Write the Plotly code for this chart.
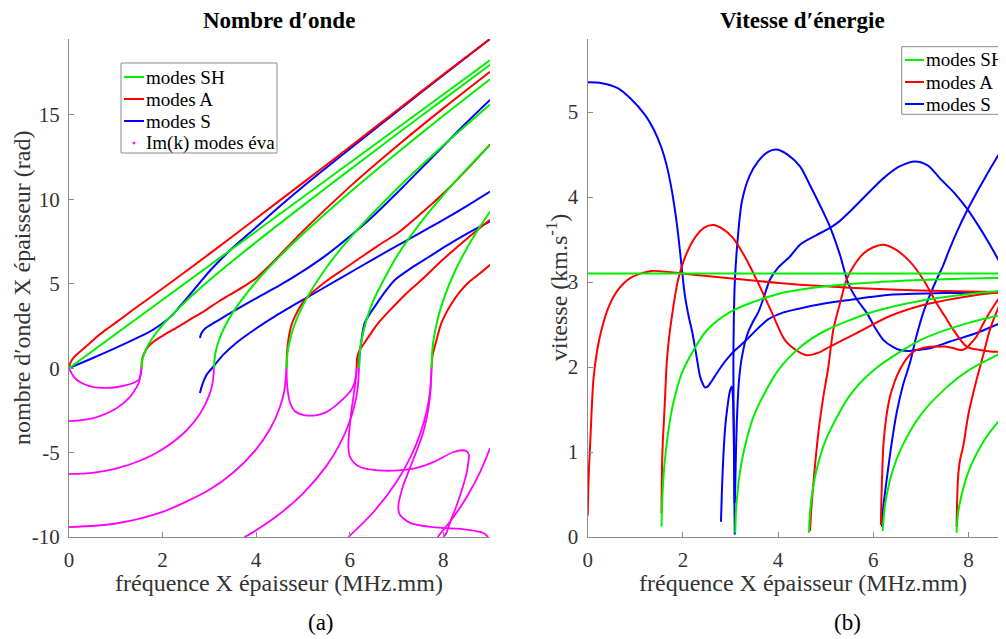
import plotly.graph_objects as go

# ================= (a) Nombre d'onde : k*d vs f*d =================
# SH modes (real k)
sh0_f = [0, 4.5, 9]
sh0_k = [0, 9.12, 18.24]
sh1_f = [1.55, 1.56, 1.6, 1.7, 1.8, 2.0, 2.5, 3.0, 4.0, 5.0, 6.0, 7.0, 8.0, 9.0]
sh1_k = [0, 0.36, 0.81, 1.41, 1.85, 2.56, 3.97, 5.21, 7.47, 9.63, 11.75, 13.84, 15.91, 17.97]
sh2_f = [3.1, 3.12, 3.15, 3.2, 3.3, 3.5, 4.0, 4.5, 5.0, 6.0, 7.0, 8.0, 9.0]
sh2_k = [0, 0.71, 1.13, 1.61, 2.29, 3.29, 5.12, 6.61, 7.95, 10.41, 12.72, 14.95, 17.12]
sh3_f = [4.65, 4.67, 4.7, 4.8, 5.0, 5.5, 6.0, 7.0, 8.0, 9.0]
sh3_k = [0, 0.88, 1.39, 2.41, 3.72, 5.95, 7.69, 10.6, 13.19, 15.62]
sh4_f = [6.2, 6.22, 6.25, 6.35, 6.5, 7.0, 7.5, 8.0, 8.5, 9.0]
sh4_k = [0, 1.02, 1.6, 2.78, 3.96, 6.59, 8.56, 10.25, 11.79, 13.22]
sh5_f = [7.75, 7.77, 7.8, 7.9, 8.0, 8.25, 8.5, 8.75, 9.0]
sh5_k = [0, 1.14, 1.79, 3.11, 4.02, 5.74, 7.08, 8.23, 9.27]

# antisymmetric Lamb modes
a0_f = [0, 0.02, 0.05, 0.1, 0.16, 0.24, 0.35, 0.5, 0.64, 0.8, 1.0, 1.34, 2.0, 3.0, 4.0, 5.0, 6.0, 7.0, 8.0, 9.0]
a0_k = [0, 0.25, 0.42, 0.62, 0.8, 0.99, 1.25, 1.62, 1.96, 2.3, 2.7, 3.4, 4.72, 6.77, 8.87, 10.98, 13.1, 15.25, 17.4, 19.5]
a1_f = [1.55, 1.555, 1.57, 1.6, 1.65, 1.72, 1.8, 1.9, 2.05, 2.3, 2.6, 2.9, 3.2, 3.5, 3.8, 4.01, 4.2, 4.4, 5.0, 6.0, 7.0, 8.0, 9.0]
a1_k = [0, 0.35, 0.6, 0.85, 1.1, 1.35, 1.55, 1.75, 2.0, 2.4, 2.9, 3.4, 3.95, 4.45, 4.95, 5.35, 5.85, 6.4, 8.12, 10.74, 13.13, 15.39, 17.56]
a2_f = [4.65, 4.66, 4.69, 4.75, 4.83, 4.93, 5.04, 5.25, 5.54, 5.9, 6.21, 6.6, 7.05, 7.5, 8.0, 8.5, 9.0]
a2_k = [0, 0.9, 1.69, 2.5, 3.07, 3.6, 4.05, 4.6, 5.24, 5.92, 6.51, 7.25, 8.05, 9.1, 10.35, 11.75, 13.25]
a3_f = [6.15, 6.16, 6.2, 6.29, 6.45, 6.61, 6.9, 7.2, 7.54, 8.0, 8.5, 9.0]
a3_k = [0, 0.6, 1.0, 1.39, 2.05, 2.67, 3.55, 4.4, 5.24, 6.45, 7.65, 8.79]
a4_f = [7.75, 7.77, 7.85, 7.96, 8.15, 8.35, 8.55, 8.8, 9.0]
a4_k = [0, 0.7, 1.6, 2.67, 3.7, 4.5, 5.1, 5.65, 6.12]

# symmetric Lamb modes
s0_f = [0, 0.5, 1.0, 1.5, 1.8, 2.0, 2.2, 2.35, 2.5, 2.7, 2.85, 3.0, 3.25, 3.5, 4.0, 4.5, 5.0, 6.0, 7.0, 8.0, 9.0]
s0_k = [0, 0.59, 1.2, 1.85, 2.29, 2.66, 3.12, 3.6, 4.08, 4.74, 5.24, 5.73, 6.45, 7.13, 8.35, 9.58, 10.75, 12.98, 15.18, 17.36, 19.5]
s1u_f = [2.8, 2.82, 2.86, 2.92, 3.0, 3.2, 3.5, 3.94, 4.5, 5.0, 5.5, 6.0, 6.5, 7.0, 7.5, 8.0, 8.5, 9.0]
s1u_k = [1.79, 2.0, 2.2, 2.37, 2.52, 2.85, 3.35, 4.05, 4.9, 5.75, 6.7, 7.8, 9.0, 10.35, 11.75, 13.15, 14.55, 15.89]
s1l_f = [2.8, 2.83, 2.88, 2.95, 3.08, 3.3, 3.6, 4.0, 4.4, 5.0, 5.75, 6.5, 7.25, 8.0, 8.5, 9.0]
s1l_k = [-1.47, -1.15, -0.75, -0.35, 0.07, 0.8, 1.55, 2.35, 3.07, 4.05, 5.24, 6.45, 7.62, 8.78, 9.6, 10.46]
s3_f = [6.2, 6.21, 6.25, 6.32, 6.45, 6.54, 6.75, 6.97, 7.3, 7.7, 8.1, 8.5, 9.0]
s3_k = [0, 0.7, 1.6, 2.67, 3.3, 3.66, 4.5, 5.24, 5.9, 6.6, 7.3, 7.95, 8.69]

# evanescent modes, Im(k) (plotted negative)
ev1_f = [0, 0.5, 1.0, 1.3, 1.45, 1.5, 1.55]
ev1_k = [-3.14, -2.97, -2.4, -1.71, -1.11, -0.79, 0]
ev2_f = [0, 0.5, 1.0, 1.5, 2.0, 2.5, 2.8, 3.0, 3.07, 3.1]
ev2_k = [-6.28, -6.2, -5.95, -5.5, -4.8, -3.72, -2.7, -1.58, -0.87, 0]
ev3_f = [0, 1.0, 2.0, 3.0, 3.5, 4.0, 4.3, 4.5, 4.6, 4.65]
ev3_k = [-9.42, -9.2, -8.51, -7.2, -6.21, -4.81, -3.59, -2.37, -1.38, 0]
ev4_f = [3.75, 4.0, 4.5, 5.0, 5.5, 5.8, 6.0, 6.1, 6.17, 6.2]
ev4_k = [-10, -9.6, -8.64, -7.43, -5.8, -4.44, -3.16, -2.24, -1.22, 0]
ev5_f = [5.975, 6.5, 7.0, 7.3, 7.5, 7.65, 7.72, 7.75]
ev5_k = [-10, -8.55, -6.74, -5.27, -3.95, -2.51, -1.34, 0]
ev6_f = [7.88, 8.2, 8.5, 8.8, 9.0]
ev6_k = [-10, -8.89, -7.65, -6.09, -4.75]
ev7_f = [0, 0.1, 0.25, 0.5, 0.77, 1.0, 1.2, 1.4, 1.5, 1.54, 1.55]
ev7_k = [0, -0.5, -0.85, -1.1, -1.17, -1.13, -1.02, -0.85, -0.65, -0.3, 0]
ev8_f = [4.65, 4.655, 4.67, 4.72, 4.83, 5.0, 5.11, 5.3, 5.5, 5.68, 5.85, 6.04, 6.12, 6.15]
ev8_k = [0, -0.6, -1.2, -2.0, -2.55, -2.77, -2.81, -2.78, -2.6, -2.26, -1.85, -1.27, -0.7, 0]
ev9_f = [6.15, 6.12, 6.08, 6.04, 6.0, 5.975, 5.975, 6.0, 6.06, 6.17, 6.36, 6.72, 7.1, 7.43, 7.8, 8.21, 8.4, 8.5, 8.55, 8.54, 8.5, 8.4, 8.28, 8.15, 8.07, 8.0]
ev9_k = [0, -0.9, -1.7, -2.46, -3.5, -4.3, -4.8, -5.2, -5.5, -5.78, -5.97, -6.07, -6.04, -5.91, -5.55, -4.98, -4.86, -4.92, -5.12, -5.5, -6.2, -7.2, -8.18, -9.1, -9.75, -10]
ev10_f = [7.75, 7.71, 7.57, 7.36, 7.14, 7.04, 7.07, 7.29, 7.78, 8.5, 8.85, 8.96]
ev10_k = [0, -1.86, -3.83, -5.41, -7.0, -8.18, -8.67, -9.16, -9.42, -9.56, -9.75, -10]

# ================= (b) Vitesse d'énergie : v (km/s) vs f*d =================
vsh0_f = [0, 4.5, 9]
vsh0_v = [3.1, 3.1, 3.1]
vsh1_f = [1.5502, 1.56, 1.6, 1.7, 1.8, 2.0, 2.5, 3.0, 4.0, 5.0, 6.0, 7.0, 8.0, 9.0]
vsh1_v = [0.12, 0.35, 0.77, 1.27, 1.58, 1.96, 2.43, 2.65, 2.86, 2.95, 2.995, 3.023, 3.041, 3.054]
vsh2_f = [3.1, 3.12, 3.2, 3.3, 3.5, 4.0, 4.5, 5.0, 6.0, 7.0, 8.0, 9.0]
vsh2_v = [0.05, 0.35, 0.77, 1.06, 1.44, 1.96, 2.25, 2.43, 2.65, 2.78, 2.86, 2.91]
vsh3_f = [4.65, 4.66, 4.7, 4.8, 5.0, 5.5, 6.0, 7.0, 8.0, 9.0]
vsh3_v = [0.05, 0.2, 0.45, 0.77, 1.14, 1.66, 1.96, 2.32, 2.52, 2.65]
vsh4_f = [6.2, 6.21, 6.25, 6.4, 6.6, 7.0, 7.5, 8.0, 9.0]
vsh4_v = [0.07, 0.18, 0.39, 0.77, 1.06, 1.44, 1.74, 1.96, 2.25]
vsh5_f = [7.75, 7.76, 7.8, 8.0, 8.3, 8.6, 9.0]
vsh5_v = [0.05, 0.16, 0.35, 0.77, 1.11, 1.34, 1.58]

va0_f = [0, 0.01, 0.03, 0.05, 0.08, 0.12, 0.2, 0.29, 0.45, 0.64, 0.9, 1.34, 1.97, 2.5, 3.09, 4.0, 5.0, 6.0, 7.0, 8.0, 9.0]
va0_v = [0.25, 0.5, 0.85, 1.07, 1.45, 1.85, 2.2, 2.44, 2.72, 2.91, 3.05, 3.13, 3.1, 3.07, 3.04, 2.99, 2.95, 2.92, 2.9, 2.89, 2.88]
va1_f = [1.55, 1.555, 1.565, 1.58, 1.6, 1.63, 1.66, 1.71, 1.76, 1.83, 1.9, 2.05, 2.25, 2.45, 2.64, 2.85, 3.05, 3.3, 3.58, 3.87, 4.14, 4.4, 4.6, 4.85, 5.09, 5.65, 6.35, 7.05, 7.75, 8.5, 9.0]
va1_v = [0.28, 0.6, 0.9, 1.15, 1.35, 1.7, 2.05, 2.35, 2.56, 2.82, 3.03, 3.3, 3.52, 3.64, 3.67, 3.62, 3.52, 3.3, 2.99, 2.64, 2.32, 2.19, 2.14, 2.17, 2.24, 2.4, 2.6, 2.73, 2.81, 2.87, 2.9]
va2_f = [4.67, 4.7, 4.74, 4.78, 4.85, 4.95, 5.05, 5.16, 5.3, 5.44, 5.6, 5.8, 6.0, 6.21, 6.45, 6.77, 7.05, 7.33, 7.5, 7.68, 7.96, 8.24, 8.5, 8.77, 9.0]
va2_v = [0.07, 0.35, 0.62, 0.87, 1.25, 1.65, 1.98, 2.44, 2.75, 3.03, 3.2, 3.34, 3.41, 3.44, 3.39, 3.24, 3.03, 2.75, 2.6, 2.44, 2.24, 2.2, 2.18, 2.18, 2.18]
va3_f = [6.16, 6.17, 6.19, 6.21, 6.27, 6.35, 6.45, 6.56, 6.7, 6.84, 7.0, 7.19, 7.4, 7.54, 7.7, 7.82, 7.95, 8.05, 8.17, 8.3, 8.4, 8.52, 8.65, 8.77, 9.0]
va3_v = [0.14, 0.45, 0.8, 1.07, 1.4, 1.65, 1.83, 1.97, 2.1, 2.18, 2.22, 2.24, 2.24, 2.24, 2.22, 2.2, 2.22, 2.28, 2.36, 2.5, 2.6, 2.71, 2.82, 2.91, 3.05]
va4_f = [7.75, 7.76, 7.78, 7.82, 7.89, 8.0, 8.17, 8.3, 8.45, 8.6, 8.77, 9.0]
va4_v = [0.12, 0.4, 0.7, 0.9, 1.07, 1.45, 1.85, 2.12, 2.44, 2.66, 2.87, 3.05]

vs0_f = [0, 0.3, 0.64, 0.9, 1.2, 1.4, 1.55, 1.66, 1.76, 1.84, 1.9, 1.97, 2.04, 2.12, 2.2, 2.3, 2.36, 2.42, 2.46, 2.52, 2.6, 2.67, 2.8, 2.95, 3.1, 3.3, 3.55, 3.79, 4.1, 4.46, 5.0, 5.5, 6.35, 7.5, 9.0]
vs0_v = [5.35, 5.34, 5.28, 5.16, 4.97, 4.78, 4.58, 4.37, 4.1, 3.82, 3.56, 3.2, 2.85, 2.6, 2.4, 2.08, 1.89, 1.8, 1.76, 1.77, 1.83, 1.89, 2.0, 2.11, 2.2, 2.3, 2.44, 2.56, 2.64, 2.69, 2.75, 2.79, 2.85, 2.87, 2.88]
vsb_f = [2.8, 2.82, 2.85, 2.89, 2.94, 2.99, 3.03, 3.05, 3.065, 3.075, 3.085, 3.09]
vsb_v = [0.18, 0.55, 0.95, 1.3, 1.55, 1.72, 1.77, 1.65, 1.35, 1.0, 0.65, 0.4]
vsu_f = [3.09, 3.08, 3.07, 3.06, 3.07, 3.09, 3.15, 3.24, 3.4, 3.58, 3.78, 3.97, 4.2, 4.46, 4.67, 4.9, 5.09, 5.3, 5.47, 5.65, 5.86, 6.05, 6.21, 6.4, 6.56, 6.75, 6.91, 7.19, 7.61, 8.17, 8.77, 9.0]
vsu_v = [0.03, 0.5, 1.2, 2.0, 2.56, 2.99, 3.5, 3.95, 4.25, 4.42, 4.53, 4.56, 4.5, 4.36, 4.14, 3.88, 3.65, 3.32, 2.99, 2.8, 2.64, 2.45, 2.32, 2.24, 2.2, 2.19, 2.2, 2.22, 2.3, 2.4, 2.54, 2.58]
vs2_f = [3.09, 3.1, 3.115, 3.14, 3.18, 3.24, 3.35, 3.47, 3.58, 3.7, 3.83, 4.0, 4.25, 4.46, 4.8, 5.1, 5.3, 5.51, 5.9, 6.21, 6.55, 6.88, 7.15, 7.4, 7.7, 7.96, 8.2, 8.45, 8.77, 9.0]
vs2_v = [0.4, 0.6, 1.0, 1.45, 1.85, 2.12, 2.38, 2.53, 2.64, 2.82, 3.03, 3.17, 3.3, 3.44, 3.55, 3.64, 3.72, 3.83, 4.05, 4.22, 4.36, 4.42, 4.37, 4.22, 4.05, 3.87, 3.67, 3.44, 3.11, 2.85]
vs3_f = [6.18, 6.2, 6.23, 6.28, 6.38, 6.49, 6.62, 6.77, 6.9, 7.05, 7.2, 7.33, 7.47, 7.61, 7.78, 7.96, 8.17, 8.38, 8.58, 8.77, 9.0]
vs3_v = [0.12, 0.3, 0.45, 0.67, 1.08, 1.46, 1.78, 2.05, 2.35, 2.64, 2.86, 3.03, 3.2, 3.4, 3.62, 3.83, 4.05, 4.26, 4.45, 4.62, 4.8]

# ticks and legend labels
xticks = [0, 2, 4, 6, 8]
yticks_a = [-10, -5, 0, 5, 10, 15]
yticks_a_text = ["-10", "-5", "0", "5", "10", "15"]
yticks_b = [0, 1, 2, 3, 4, 5]
legend_a_labels = ["modes SH", "modes A", "modes S", "Im(k) modes éva"]
legend_b_labels = ["modes SH", "modes A", "modes S"]

GREEN, RED, BLUE, MAG = "#00f000", "#ff0000", "#0000ff", "#ff00ff"
FONT = "Liberation Serif, Times New Roman, serif"
OFF = 8                      # page body margin of the html page
W, H = 1006 - OFF, 639 - OFF  # figure size so that it fills the window

fig = go.Figure()

def add(x, y, color, xa, ya, width=2):
    fig.add_trace(go.Scatter(
        x=x, y=y, mode="lines", xaxis=xa, yaxis=ya,
        line=dict(color=color, width=width, shape="spline", smoothing=0.8),
        showlegend=False, hoverinfo="skip"))

# panel (a)
for f, k in [(ev1_f, ev1_k), (ev2_f, ev2_k), (ev3_f, ev3_k), (ev4_f, ev4_k),
             (ev5_f, ev5_k), (ev6_f, ev6_k), (ev7_f, ev7_k), (ev8_f, ev8_k),
             (ev9_f, ev9_k), (ev10_f, ev10_k)]:
    add(f, k, MAG, "x", "y", width=1.8)
for f, k in [(s0_f, s0_k), (s1u_f, s1u_k), (s1l_f, s1l_k), (s3_f, s3_k)]:
    add(f, k, BLUE, "x", "y")
for f, k in [(a0_f, a0_k), (a1_f, a1_k), (a2_f, a2_k), (a3_f, a3_k), (a4_f, a4_k)]:
    add(f, k, RED, "x", "y")
for f, k in [(sh0_f, sh0_k), (sh1_f, sh1_k), (sh2_f, sh2_k), (sh3_f, sh3_k), (sh4_f, sh4_k), (sh5_f, sh5_k)]:
    add(f, k, GREEN, "x", "y")

# panel (b)
for f, v in [(vs0_f, vs0_v), (vsb_f, vsb_v), (vsu_f, vsu_v), (vs2_f, vs2_v), (vs3_f, vs3_v)]:
    add(f, v, BLUE, "x2", "y2")
for f, v in [(va0_f, va0_v), (va1_f, va1_v), (va2_f, va2_v), (va3_f, va3_v), (va4_f, va4_v)]:
    add(f, v, RED, "x2", "y2")
for f, v in [(vsh0_f, vsh0_v), (vsh1_f, vsh1_v), (vsh2_f, vsh2_v), (vsh3_f, vsh3_v), (vsh4_f, vsh4_v), (vsh5_f, vsh5_v)]:
    add(f, v, GREEN, "x2", "y2")

axis_common = dict(showline=True, linecolor="#8c8c8c", linewidth=1.3, mirror=False,
                   ticks="inside", ticklen=5, tickcolor="#8c8c8c", tickwidth=1,
                   showgrid=False, zeroline=False,
                   tickfont=dict(family=FONT, size=21, color="#333333"),
                   ticklabelstandoff=4)

def px(x):
    return (x - OFF) / W

def py(y):
    return 1 - (y - OFF) / H

ydom = [py(537), py(39)]
fig.update_layout(
    width=W, height=H, margin=dict(l=0, r=0, t=0, b=0, autoexpand=False),
    paper_bgcolor="white", plot_bgcolor="white", showlegend=False,
    xaxis=dict(domain=[px(69), px(490)], range=[0, 9], tickvals=xticks, anchor="y", **axis_common),
    yaxis=dict(domain=ydom, range=[-10, 19.5], tickvals=yticks_a, ticktext=yticks_a_text, anchor="x", **axis_common),
    xaxis2=dict(domain=[px(587.7), 1.0], range=[0, (1006 - 587.7) / 47.6], tickvals=xticks, anchor="y2", **axis_common),
    yaxis2=dict(domain=ydom, range=[0, 5.86], tickvals=yticks_b, anchor="x2", **axis_common),
)

def ann(text, x, y, size, angle=0, color="#000000", xanchor="center"):
    fig.add_annotation(text=text, x=px(x), y=py(y), xref="paper", yref="paper",
                       showarrow=False, xanchor=xanchor, yanchor="middle",
                       textangle=angle, font=dict(family=FONT, size=size, color=color))

# hand-built legends (boxes, samples, labels)
def legend_box(x0, x1, y0, y1, rows, labels, colors, sx0, sx1, tx):
    fig.add_shape(type="rect", xref="paper", yref="paper", x0=px(x0), x1=px(x1), y0=py(y1), y1=py(y0),
                  line=dict(color="#8c8c8c", width=1), fillcolor="white", layer="above")
    for r, lab, c in zip(rows, labels, colors):
        if c == MAG:
            cx = (sx0 + sx1) / 2
            fig.add_shape(type="circle", xref="paper", yref="paper", x0=px(cx - 1), x1=px(cx + 1),
                          y0=py(r + 1), y1=py(r - 1), line=dict(color=MAG, width=1), fillcolor=MAG, layer="above")
        else:
            fig.add_shape(type="line", xref="paper", yref="paper", x0=px(sx0), x1=px(sx1), y0=py(r), y1=py(r),
                          line=dict(color=c, width=2), layer="above")
        ann(lab, tx, r, 19, xanchor="left")

legend_box(121, 277, 63, 153, [77, 99, 121, 143], legend_a_labels, [GREEN, RED, BLUE, MAG], 124, 144, 144)
legend_box(901.7, 1015, 46.7, 114.3, [60, 82, 104], legend_b_labels, [GREEN, RED, BLUE], 905, 924, 924)

ann("<b>Nombre d′onde</b>", 279, 21, 23)
ann("<b>Vitesse d′énergie</b>", 802.5, 21, 23)
ann("fréquence X épaisseur (MHz.mm)", 279, 583, 24, color="#333333")
ann("fréquence X épaisseur (MHz.mm)", 802.5, 583, 24, color="#333333")
ann("nombre d′onde X épaisseur (rad)", 22, 288, 24, angle=-90, color="#333333")
ann("vitesse (km.s<sup>-1</sup>)", 557, 288, 24, angle=-90, color="#333333")
ann("(a)", 321, 622, 23)
ann("(b)", 847, 622, 23)

fig.write_html("out.html")
